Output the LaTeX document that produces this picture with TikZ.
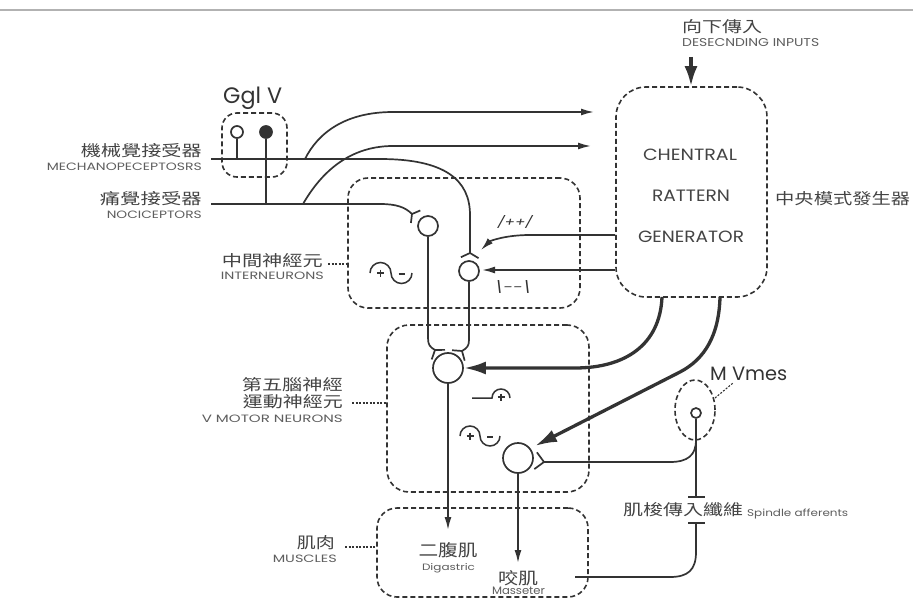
\documentclass[tikz,border=0pt]{standalone}
\usepackage{fontspec}
\usepackage{graphicx}
\setmainfont{Poppins}
\newfontfamily\cjk{Noto Sans CJK TC}
\usetikzlibrary{arrows.meta,shapes.geometric,calc}
\definecolor{ink}{HTML}{333333}
\definecolor{txt}{HTML}{444444}
\definecolor{ltxt}{HTML}{5E5E5E}
\newcommand\fit[3]{\resizebox{#1pt}{#2pt}{#3}}
\newcommand\synapse[4]{\draw[thinline] ($(#1)!#4!#3:(#2)$) -- (#1) -- ($(#1)!#4!-#3:(#2)$);}
\begin{document}
\begin{tikzpicture}[x=1pt,y=-1pt,
  thinline/.style={draw=ink,line width=1.7pt},
  thinarrow/.style={thinline,-{Latex[length=13pt,width=7pt]}},
  bigarrow/.style={draw=ink,line width=3.3pt,-{Latex[length=22pt,width=13pt]}},
  dbox/.style={draw=ink,line width=1.6pt,dash pattern=on 5pt off 3pt,inner sep=0pt},
  nrn/.style={circle,draw=ink,line width=1.7pt,inner sep=0pt,fill=white},
  lbl/.style={inner sep=0pt,text=txt},
  elbl/.style={inner sep=0pt,text=ltxt},
  lead/.style={draw=ink,line width=1.1pt,dash pattern=on 2pt off 1.5pt},
  sym/.style={draw=ink,line width=1.5pt}]
\path[use as bounding box] (0,0) rectangle (913,599);
\fill[white] (0,0) rectangle (913,599);
\draw[gray!60,line width=1.5pt] (0,10) -- (913,10);

% boxes
\node[dbox,rounded corners=30pt,minimum width=151pt,minimum height=210pt] (cpg) at (691.5,192) {};
\node[dbox,rounded corners=15pt,minimum width=65pt,minimum height=64pt] (ggl) at (254.5,145) {};
\node[dbox,rounded corners=20pt,minimum width=232pt,minimum height=130pt] (inter) at (464,243) {};
\node[dbox,rounded corners=22pt,minimum width=202pt,minimum height=167pt] (mnbox) at (488,408.5) {};
\node[dbox,rounded corners=20pt,minimum width=211pt,minimum height=89pt] (musc) at (482.5,552.5) {};
\node[ellipse,dbox,minimum width=40pt,minimum height=60pt] (mve) at (695,410) {};

% neurons
\node[nrn,minimum size=12pt] (mr) at (237,132) {};
\node[nrn,fill=ink,minimum size=12pt] (nr) at (266,132) {};
\node[nrn,minimum size=20pt] (in1) at (428,226) {};
\node[nrn,minimum size=20pt] (in2) at (469,271) {};
\node[nrn,minimum size=30pt] (mn1) at (448,368) {};
\node[nrn,minimum size=30pt] (mn2) at (518,458) {};
\node[nrn,minimum size=10pt] (mvn) at (696,413) {};

% coordinates
\coordinate (mL) at (211,159);
\coordinate (nL) at (211,204);
\coordinate (mJ) at (237,159);
\coordinate (nJ) at (266,204);
\coordinate (t1) at (412,214);
\coordinate (t2) at (470,253);
\coordinate (t3) at (435,350);
\coordinate (t4) at (462,351);
\coordinate (t5) at (544,462);
\coordinate (a1) at (594,112);
\coordinate (a2) at (591,146);
\coordinate (pp) at (481,250);
\coordinate (mm) at (482,270);
\coordinate (dig) at (448,530);
\coordinate (mas) at (518,563);
\coordinate (tb1) at (696,497);
\coordinate (tb2) at (696,523);
\coordinate (mend) at (575,577);
\coordinate (dtop) at (691,57);

% receptors
\draw[thinline] (mr.south) -- (mJ);
\draw[thinline] (nr.south) -- (nJ);
\draw[thinline] (mL) -- (380,159) .. controls (445,159) and (470,180) .. (470,215) -- (t2);
\draw[thinline] (nL) -- (380,204) .. controls (396,204) and (405,207) .. (t1);
\draw[thinarrow] (305,159) .. controls (318,133) and (345,112) .. (393,112) -- (a1);
\draw[thinarrow] (303,204) .. controls (318,178) and (345,146) .. (393,146) -- (a2);
\synapse{t2}{in2}{62}{10pt}
\synapse{t1}{in1}{60}{9pt}

% interneuron axons
\draw[thinline] (in1.south) -- (428,338) .. controls (428,345) and (430,347) .. (t3);
\draw[thinline] (in2.south) -- (469,340) .. controls (469,346) and (467,348) .. (t4);
\synapse{t3}{mn1}{55}{10pt}
\synapse{t4}{mn1}{55}{10pt}

% motor axons
\draw[thinarrow] (mn1.south) -- (dig);
\draw[thinarrow] (mn2.south) -- (mas);
\synapse{t5}{mn2}{45}{12pt}

% spindle afferents
\draw[thinline] (t5) -- (670,462) .. controls (688,462) and (696,455) .. (696,440);
\draw[thinline] (mvn.south) -- (tb1);
\draw[thinline] (688,497) -- (705,497);
\draw[thinline] (688,523) -- (705,523);
\draw[thinline] (tb2) -- (696,552) .. controls (696,570) and (688,577) .. (670,577) -- (mend);

% CPG outputs
\draw[thinarrow] (cpg.west |- 0,235) -- (530,235) .. controls (505,235) and (490,241) .. (pp);
\draw[thinarrow] (cpg.west |- 0,270) -- (mm);
\draw[bigarrow] (662,297) .. controls (660,345) and (625,368) .. (575,368) -- (mn1.east);
\draw[bigarrow] (720,297) .. controls (719,335) and (705,359) .. (680,372) -- (535,446);
\draw[draw=ink,line width=3.3pt,-{Latex[length=20pt,width=13pt]}] (dtop) -- (cpg.north -| dtop);

% leaders
\draw[lead] (328,264) -- (inter.west |- 0,264);
\draw[lead] (352,403) -- (mnbox.west |- 0,403);
\draw[lead] (345,547) -- (musc.west |- 0,547);
\draw[lead] (715,398) -- (733,383);

% symbols
\draw[sym] (370,273) arc[start angle=180,end angle=0,radius=10.5pt] arc[start angle=180,end angle=360,radius=10.5pt];
\draw[sym,shift={(380.5,273)}] (-3.5,0) -- (3.5,0) (0,-3.5) -- (0,3.5);
\draw[sym,shift={(401.5,274)}] (-3,0) -- (3,0);
\draw[sym] (460,436) arc[start angle=180,end angle=0,radius=10pt] arc[start angle=180,end angle=360,radius=10pt];
\draw[sym,shift={(470,436)}] (-3.5,0) -- (3.5,0) (0,-3.5) -- (0,3.5);
\draw[sym,shift={(490,437)}] (-3,0) -- (3,0);
\draw[sym] (472,398) -- (492,398) arc[start angle=180,end angle=0,radius=9pt];
\draw[sym,shift={(501,397)}] (-3.5,0) -- (3.5,0) (0,-3.5) -- (0,3.5);

% labels
\node[lbl,anchor=east] (l1) at (202,151) {\fit{121}{13}{\cjk 機械覺接受器}};
\node[elbl,anchor=east] (l2) at (202,167) {\fit{155}{7.5}{MECHANOPECEPTOSRS}};
\node[lbl,anchor=east] (l3) at (202,199) {\fit{102}{13}{\cjk 痛覺接受器}};
\node[elbl,anchor=east] (l4) at (202,215) {\fit{95}{7.5}{NOCICEPTORS}};
\node[lbl,anchor=east] (l5) at (323,261) {\fit{101}{13}{\cjk 中間神經元}};
\node[elbl,anchor=east] (l6) at (324,276) {\fit{103}{7.5}{INTERNEURONS}};
\node[lbl,anchor=east] (l7) at (343,385) {\fit{101}{13}{\cjk 第五腦神經}};
\node[lbl,anchor=east] (l8) at (343,402) {\fit{100}{13}{\cjk 運動神經元}};
\node[elbl,anchor=east] (l9) at (343,419) {\fit{141}{7.5}{V MOTOR NEURONS}};
\node[lbl,anchor=east] (l10) at (335,543) {\fit{38}{13}{\cjk 肌肉}};
\node[elbl,anchor=east] (l11) at (337,559) {\fit{64}{7.5}{MUSCLES}};
\node[lbl] (l12) at (448,550) {\fit{59}{14}{\cjk 二腹肌}};
\node[elbl,anchor=base] (l13) at (448.5,570) {\fit{53}{7}{Digastric}};
\node[lbl] (l14) at (518,578) {\fit{40}{14}{\cjk 咬肌}};
\node[elbl] (l15) at (518.5,591) {\fit{53}{7.5}{Masseter}};
\node[lbl,anchor=west] (l16) at (623,510) {\fit{120}{13}{\cjk 肌梭傳入纖維}};
\node[elbl,anchor=base west] (l17) at (747,516) {\fit{101}{7.5}{Spindle afferents}};
\node[lbl,anchor=west] (l18) at (775,199) {\fit{135}{13}{\cjk 中央模式發生器}};
\node[lbl,anchor=west] (l19) at (682,26.5) {\fit{80}{13}{\cjk 向下傳入}};
\node[elbl,anchor=west] (l20) at (682,43) {\fit{137}{8}{DESECNDING INPUTS}};
\node[lbl] (c1) at (690,155) {\fit{94}{11.5}{CHENTRAL}};
\node[lbl] (c2) at (691,196) {\fit{78}{11.5}{RATTERN}};
\node[lbl] (c3) at (691,237) {\fit{106}{11.5}{GENERATOR}};
\node[inner sep=0pt,text=ink,anchor=base west] (gg) at (223,104) {\resizebox{59pt}{!}{Ggl V}};
\node[inner sep=0pt,text=ink,anchor=base west] (mv) at (710,380) {\resizebox{77pt}{!}{M Vmes}};
\node[inner sep=0pt,text=ink] (pl) at (515,222) {\fit{35}{11}{\itshape /++/}};
\node[inner sep=0pt,text=ink] (mi) at (513,287) {\fit{37}{11}{\itshape\textbackslash-{}-\textbackslash}};
\end{tikzpicture}
\end{document}
